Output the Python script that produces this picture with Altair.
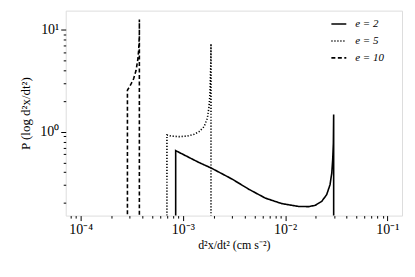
import altair as alt
import pandas as pd

# ---- data ----
e2_x = [8.50e-4, 8.50e-4, 1.44e-3, 1.90e-3, 3.04e-3, 4.41e-3, 6.42e-3, 9.31e-3, 1.35e-2,
        1.69e-2, 1.97e-2, 2.28e-2, 2.55e-2, 2.75e-2, 2.86e-2, 2.92e-2, 2.965e-2, 2.985e-2, 2.985e-2]
e2_y = [0.1, 0.652, 0.498, 0.439, 0.342, 0.2726, 0.2227, 0.1968, 0.1848,
        0.1839, 0.1894, 0.2072, 0.2409, 0.3017, 0.3925, 0.5293, 0.7704, 1.479, 0.1]

e5_x = [6.98e-4, 6.98e-4, 7.63e-4, 9.19e-4, 1.107e-3, 1.287e-3, 1.439e-3, 1.610e-3,
        1.734e-3, 1.801e-3, 1.841e-3, 1.871e-3, 1.883e-3, 1.883e-3]
e5_y = [0.1, 0.929, 0.908, 0.894, 0.908, 0.943, 1.0, 1.119, 1.352, 1.754, 2.371, 4.313, 7.30, 0.1]

e10_x = [2.867e-4, 2.867e-4, 3.066e-4, 3.302e-4, 3.484e-4, 3.612e-4, 3.693e-4, 3.752e-4, 3.752e-4, 3.752e-4]
e10_y = [0.1, 2.554, 2.858, 3.322, 4.004, 5.013, 6.281, 9.14, 12.61, 0.1]

series_labels = ["e = 2", "e = 5", "e = 10"]

x_domain = [7.14e-5, 0.1392]
y_domain = [0.1502, 15.43]

rows = []
for lab, xs, ys in zip(series_labels, [e2_x, e5_x, e10_x], [e2_y, e5_y, e10_y]):
    for i, (xv, yv) in enumerate(zip(xs, ys)):
        rows.append({"series": lab, "x": xv, "y": yv, "order": i})
df = pd.DataFrame(rows)


def log_ticks(lo, hi):
    vals = []
    for n in range(-6, 3):
        for k in range(1, 10):
            v = k * 10.0 ** n
            if lo <= v <= hi:
                vals.append(v)
    return vals


x_ticks = log_ticks(*x_domain)
y_ticks = log_ticks(*y_domain)

E = "round(log(datum.value)/LN10)"
is_major = f"abs(log(datum.value)/LN10 - {E}) < 0.001"
label_expr = (f"{is_major} ? '10' + ({E} < 0 ? '\u207b' : '') + "
              f"['\u2070','\u00b9','\u00b2','\u00b3','\u2074','\u2075'][abs({E})] : ''")

tick_size = {"condition": {"test": is_major, "value": 5}, "value": 2.5}

axis_common = dict(
    labelExpr=label_expr,
    tickSize=tick_size,
    tickColor="black",
    tickWidth=1,
    domain=False,
    grid=False,
    labelFont="Liberation Serif",
    labelFontSize=14,
    labelColor="black",
    titleFont="Liberation Serif",
    titleFontWeight="normal",
    titleColor="black",
    labelPadding=2,
)

chart = alt.Chart(df).mark_line(clip=True, strokeWidth=1.6, color="black").encode(
    x=alt.X("x:Q",
            scale=alt.Scale(type="log", domain=x_domain, nice=False),
            axis=alt.Axis(values=x_ticks, title="d\u00b2x/dt\u00b2 (cm s\u207b\u00b2)",
                          titlePadding=3, titleFontSize=12, labelFlush=False,
                          labelOverlap=False, **axis_common)),
    y=alt.Y("y:Q",
            scale=alt.Scale(type="log", domain=y_domain, nice=False),
            axis=alt.Axis(values=y_ticks, title="P (log d\u00b2x/dt\u00b2)",
                          titlePadding=7, titleFontSize=13, labelFlush=False,
                          labelOverlap=False, **axis_common)),
    strokeDash=alt.StrokeDash(
        "series:N",
        scale=alt.Scale(domain=series_labels, range=[[1, 0], [1.2, 1.8], [4, 2.5]]),
        legend=alt.Legend(title=None, orient="none", legendX=266, legendY=5,
                          symbolType="stroke", symbolSize=225, symbolStrokeWidth=1.6,
                          symbolStrokeColor="black",
                          labelFont="Liberation Serif", labelFontStyle="italic",
                          labelFontSize=11, labelColor="black", rowPadding=3,
                          labelOffset=8),
    ),
    order="order:Q",
).properties(
    width=338,
    height=206,
    autosize=alt.AutoSizeParams(type="none"),
    padding={"left": 58, "top": 2, "right": 5, "bottom": 45},
).configure_view(
    stroke="black", strokeWidth=1
).configure(background="white")

chart.save("out.html", embed_options={"renderer": "svg", "actions": False})
